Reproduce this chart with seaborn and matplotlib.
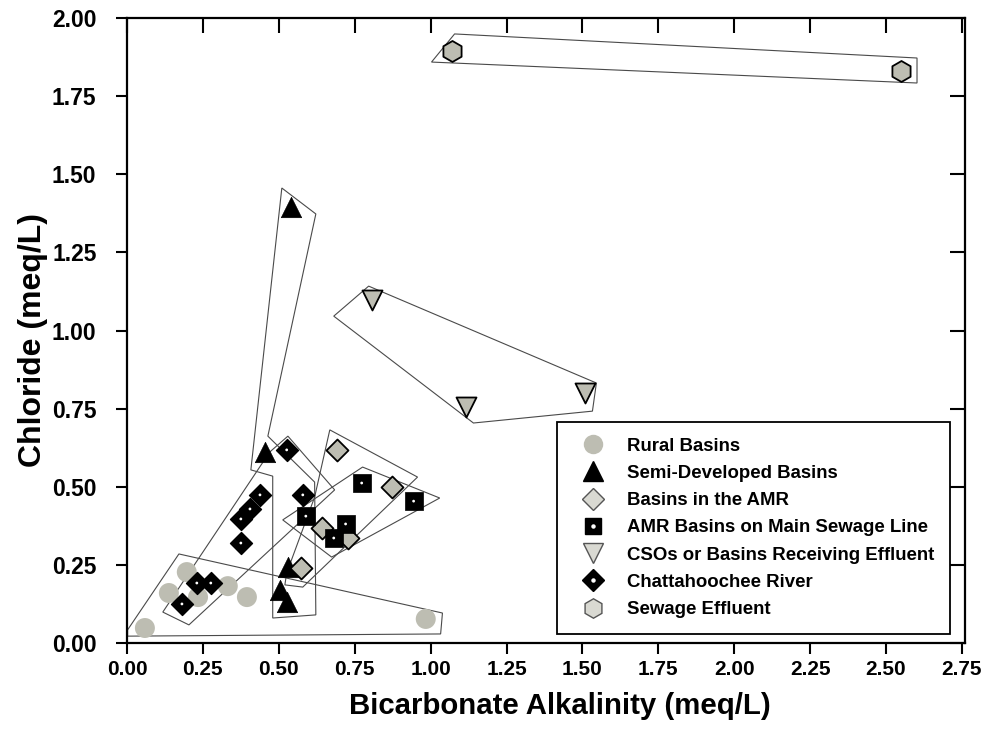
import matplotlib
matplotlib.use("Agg")
import matplotlib.pyplot as plt
from matplotlib.lines import Line2D
from matplotlib.legend_handler import HandlerTuple
import seaborn as sns

# ---- sample values: bicarbonate alkalinity (x) and chloride (y), meq/L ----
rural_x = [0.059, 0.138, 0.197, 0.234, 0.332, 0.395, 0.984]
rural_y = [0.048, 0.160, 0.227, 0.147, 0.182, 0.147, 0.077]

semi_x = [0.539, 0.454, 0.530, 0.503, 0.526]
semi_y = [1.395, 0.611, 0.243, 0.170, 0.131]

amr_x = [0.691, 0.872, 0.641, 0.727, 0.572]
amr_y = [0.618, 0.499, 0.368, 0.336, 0.240]

sewer_x = [0.773, 0.944, 0.589, 0.720, 0.681]
sewer_y = [0.512, 0.454, 0.406, 0.381, 0.336]

cso_x = [0.806, 1.118, 1.507]
cso_y = [1.098, 0.755, 0.800]

river_x = [0.526, 0.579, 0.438, 0.405, 0.375, 0.375, 0.230, 0.276, 0.181]
river_y = [0.618, 0.474, 0.474, 0.429, 0.397, 0.320, 0.192, 0.192, 0.125]

effluent_x = [1.072, 2.549]
effluent_y = [1.894, 1.830]

# ---- hand-drawn group envelopes (data units) ----
rural_env_x = [0.002, 0.171, 1.039, 1.033, 0.002]
rural_env_y = [0.042, 0.285, 0.096, 0.029, 0.022]
river_env_x = [0.118, 0.204, 0.684, 0.530, 0.470]
river_env_y = [0.099, 0.058, 0.490, 0.662, 0.611]
semi_env_x = [0.510, 0.622, 0.464, 0.618, 0.622, 0.480, 0.480, 0.408]
semi_env_y = [1.456, 1.373, 0.662, 0.515, 0.090, 0.080, 0.534, 0.554]
amr_env_x = [0.668, 0.957, 0.579, 0.520, 0.526, 0.618]
amr_env_y = [0.682, 0.531, 0.179, 0.186, 0.224, 0.467]
sewer_env_x = [0.776, 1.030, 0.674, 0.513]
sewer_env_y = [0.563, 0.464, 0.275, 0.394]
cso_env_x = [0.796, 1.546, 1.533, 1.141, 0.681]
cso_env_y = [1.142, 0.832, 0.742, 0.704, 1.046]
effluent_env_x = [1.079, 2.602, 2.602, 1.003]
effluent_env_y = [1.949, 1.872, 1.792, 1.859]

x_ticks = [0.00, 0.25, 0.50, 0.75, 1.00, 1.25, 1.50, 1.75, 2.00, 2.25, 2.50, 2.75]
y_ticks = [0.00, 0.25, 0.50, 0.75, 1.00, 1.25, 1.50, 1.75, 2.00]

labels = ["Rural Basins", "Semi-Developed Basins", "Basins in the AMR",
          "AMR Basins on Main Sewage Line", "CSOs or Basins Receiving Effluent",
          "Chattahoochee River", "Sewage Effluent"]

sns.set_theme(style="ticks")
plt.rcParams["font.family"] = ["Liberation Sans", "DejaVu Sans"]
plt.rcParams["font.weight"] = "bold"
plt.rcParams["text.color"] = "black"
plt.rcParams["axes.labelcolor"] = "black"
plt.rcParams["xtick.color"] = "black"
plt.rcParams["ytick.color"] = "black"

GREY = "#bdbdb2"
LINE = "#4a4a4a"

fig = plt.figure(figsize=(10.03, 7.47), dpi=100)
ax = fig.add_axes([0.1266, 0.1392, 0.8355, 0.8367])

# envelopes
for ex, ey in [(rural_env_x, rural_env_y), (river_env_x, river_env_y),
               (semi_env_x, semi_env_y), (amr_env_x, amr_env_y),
               (sewer_env_x, sewer_env_y), (cso_env_x, cso_env_y),
               (effluent_env_x, effluent_env_y)]:
    ax.fill(ex, ey, facecolor="none", edgecolor=LINE, linewidth=0.8, zorder=1)

sns.scatterplot(x=rural_x, y=rural_y, marker="o", s=207, color=GREY,
                edgecolor="none", linewidth=0, ax=ax, zorder=2, legend=False)
sns.scatterplot(x=semi_x, y=semi_y, marker="^", s=215, color="black",
                edgecolor="black", linewidth=0.5, ax=ax, zorder=3, legend=False)
sns.scatterplot(x=amr_x, y=amr_y, marker="D", s=125, color=GREY,
                edgecolor="black", linewidth=1.3, ax=ax, zorder=4, legend=False)
sns.scatterplot(x=river_x, y=river_y, marker="D", s=125, color="black",
                edgecolor="black", linewidth=1.0, ax=ax, zorder=5, legend=False)
sns.scatterplot(x=river_x, y=river_y, marker="o", s=4, color="white",
                edgecolor="none", linewidth=0, ax=ax, zorder=5.1, legend=False)
sns.scatterplot(x=sewer_x, y=sewer_y, marker="s", s=187, color="black",
                edgecolor="black", linewidth=0.5, ax=ax, zorder=6, legend=False)
sns.scatterplot(x=sewer_x, y=sewer_y, marker="o", s=4, color="white",
                edgecolor="none", linewidth=0, ax=ax, zorder=6.1, legend=False)
sns.scatterplot(x=cso_x, y=cso_y, marker="v", s=207, color=GREY,
                edgecolor="black", linewidth=1.3, ax=ax, zorder=7, legend=False)
sns.scatterplot(x=effluent_x, y=effluent_y, marker="h", s=228, color=GREY,
                edgecolor="black", linewidth=1.3, ax=ax, zorder=8, legend=False)

ax.set_xlim(0, 2.76)
ax.set_ylim(0, 2.0)
ax.set_xticks(x_ticks)
ax.set_yticks(y_ticks)
ax.set_xticklabels([f"{v:.2f}" for v in x_ticks])
ax.set_yticklabels([f"{v:.2f}" for v in y_ticks])
ax.tick_params(direction="out", length=8, width=1.5, colors="black")
ax.tick_params(axis="x", labelsize=15, pad=4)
ax.tick_params(axis="y", labelsize=16.5, pad=14)
for lab in ax.get_xticklabels() + ax.get_yticklabels():
    lab.set_fontweight("bold")
for sp in ax.spines.values():
    sp.set_visible(True)
    sp.set_linewidth(1.6)
    sp.set_color("black")

top = ax.secondary_xaxis("top")
top.set_xticks(x_ticks)
top.tick_params(direction="in", length=11, width=1.5, labeltop=False)
right = ax.secondary_yaxis("right")
right.set_yticks(y_ticks)
right.tick_params(direction="in", length=11, width=1.5, labelright=False)

ax.set_xlabel("Bicarbonate Alkalinity (meq/L)", fontsize=21.2, fontweight="bold")
ax.set_ylabel("Chloride (meq/L)", fontsize=23, fontweight="bold")
ax.xaxis.set_label_coords(0.517, -0.079)
ax.yaxis.set_label_coords(-0.094, 0.485)

LEG = "#d9d9d2"
dot = Line2D([], [], marker="o", ls="none", markerfacecolor="white",
             markeredgecolor="white", markersize=2.2)
handles = [
    Line2D([], [], marker="o", ls="none", markersize=14, markerfacecolor=GREY,
           markeredgecolor="none"),
    Line2D([], [], marker="^", ls="none", markersize=14, markerfacecolor="black",
           markeredgecolor="black"),
    Line2D([], [], marker="D", ls="none", markersize=11, markerfacecolor=LEG,
           markeredgecolor="#555555", markeredgewidth=1.0),
    (Line2D([], [], marker="s", ls="none", markersize=12, markerfacecolor="black",
            markeredgecolor="black"), dot),
    Line2D([], [], marker="v", ls="none", markersize=14, markerfacecolor=LEG,
           markeredgecolor="#555555", markeredgewidth=1.0),
    (Line2D([], [], marker="D", ls="none", markersize=11, markerfacecolor="black",
            markeredgecolor="black"), dot),
    Line2D([], [], marker="h", ls="none", markersize=14, markerfacecolor=LEG,
           markeredgecolor="#555555", markeredgewidth=1.0),
]
leg = ax.legend(handles, labels, loc="upper left", bbox_to_anchor=(0.513, 0.354),
                borderaxespad=0, frameon=True, fancybox=False, framealpha=1,
                edgecolor="black",
                prop={"weight": "bold", "size": 13.4},
                handler_map={tuple: HandlerTuple(ndivide=1)},
                labelspacing=0.55, handletextpad=0.75, borderpad=0.85,
                handlelength=2.17)
leg.get_frame().set_linewidth(1.3)

fig.savefig("out.png", dpi=100)
